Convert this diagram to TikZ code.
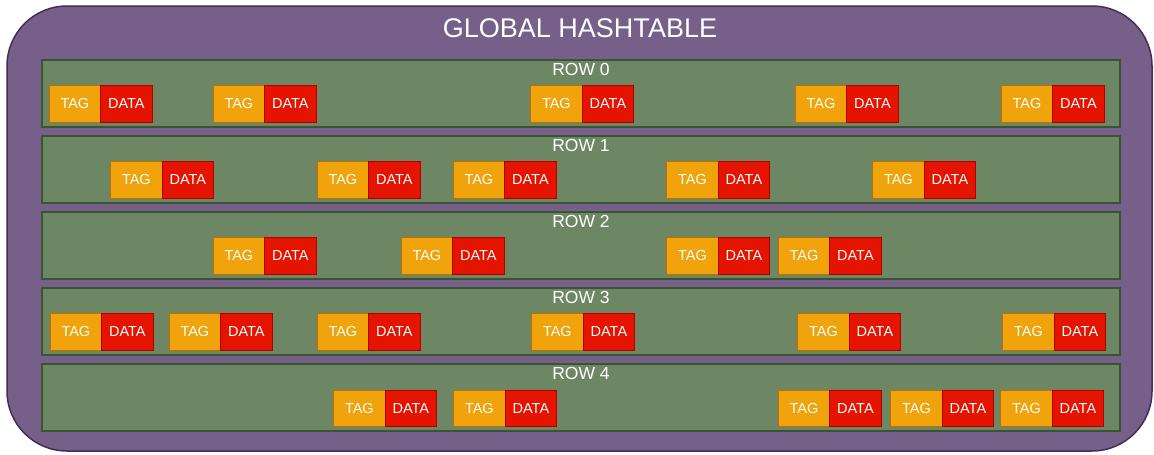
\documentclass[tikz,border=0pt]{standalone}
\usepackage{fontspec}
\setmainfont{Liberation Sans}
\definecolor{outerfill}{HTML}{76608A}
\definecolor{outerline}{HTML}{432D57}
\definecolor{rowfill}{HTML}{6D8764}
\definecolor{rowline}{HTML}{3A5431}
\definecolor{tagfill}{HTML}{F0A30A}
\definecolor{tagline}{HTML}{BD7000}
\definecolor{datafill}{HTML}{E51400}
\definecolor{dataline}{HTML}{B20000}
\tikzset{
  outerbox/.style={draw=outerline, fill=outerfill, line width=1.5pt, rounded corners=60pt},
  rowbox/.style={draw=rowline, fill=rowfill, line width=2pt},
  tagbox/.style={draw=tagline, fill=tagfill, line width=1.3pt, anchor=north west, minimum width=51.5pt, minimum height=36.5pt, inner sep=0pt, text=white, font=\fontsize{14.5}{16}\selectfont},
  databox/.style={draw=dataline, fill=datafill, line width=1.3pt, anchor=north west, minimum width=51.5pt, minimum height=36.5pt, inner sep=0pt, text=white, font=\fontsize{14.5}{16}\selectfont},
  titletext/.style={text=white, font=\fontsize{27}{30}\selectfont, inner sep=0pt},
  rowtext/.style={text=white, font=\fontsize{17.5}{20}\selectfont, inner sep=0pt},
}
\begin{document}
\begin{tikzpicture}[x=1pt,y=-1pt]
\useasboundingbox (0,0) rectangle (1154,455);
\draw[outerbox] (7,6) rectangle (1152,451);
\node[titletext] (title) at (580,28) {GLOBAL HASHTABLE};
\foreach \r in {0,...,4}{
  \pgfmathsetmacro{\top}{60+76*\r}
  \draw[rowbox] (42,\top) rectangle (1120,\top+66.5);
  \node[rowtext] (row\r) at (581,\top+9.5) {ROW \r};
}
\foreach \x [count=\i] in {48.5,212.5,530,794.5,1000.5}{
  \node[tagbox] (t0\i) at (\x,85) {TAG};
  \node[databox] (d0\i) at (\x+51.5,85) {DATA};
}
\foreach \x [count=\i] in {110,316.5,452.5,666,872}{
  \node[tagbox] (t1\i) at (\x,161) {TAG};
  \node[databox] (d1\i) at (\x+51.5,161) {DATA};
}
\foreach \x [count=\i] in {212.5,400.5,666,777.5}{
  \node[tagbox] (t2\i) at (\x,237) {TAG};
  \node[databox] (d2\i) at (\x+51.5,237) {DATA};
}
\foreach \x [count=\i] in {49.5,168.5,316.5,531,797,1002}{
  \node[tagbox] (t3\i) at (\x,313) {TAG};
  \node[databox] (d3\i) at (\x+51.5,313) {DATA};
}
\foreach \x [count=\i] in {333,453,777.5,890,1000}{
  \node[tagbox] (t4\i) at (\x,389.5) {TAG};
  \node[databox] (d4\i) at (\x+51.5,389.5) {DATA};
}
\end{tikzpicture}
\end{document}
